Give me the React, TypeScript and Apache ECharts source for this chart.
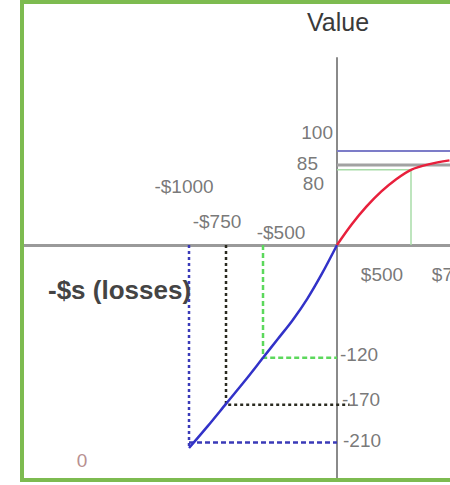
import React, { useEffect, useRef } from 'react';
import * as echarts from 'echarts';

// Reference points of the value function (losses / gains in $, value)
const lossAmounts = [-1000, -750, -500];
const lossValues = [-210, -170, -120];
const lossCurveEnd = -216;
const gainAmounts = [500];
const gainValues = [80];
const gainLevels = [100, 85];

// Curves
const blueCurveX = [0, -100, -200, -300, -400, -500, -625, -750, -875, -1000];
const blueCurveY = [0, -30, -57, -80, -100, -120, -145, -169, -193, -216];
const redCurveX = [0, 100, 200, 300, 400, 500, 625, 760];
const redCurveY = [0, 22, 41, 57, 70, 80, 86, 90];

// Tick labels
const xTickLabels = ['-$1000', '-$750', '-$500', '$500', '$750'];
const xTickValues = [-1000, -750, -500, 500, 750];
const yTickLabels = ['100', '85', '80', '-120', '-170', '-210'];
const yTickValues = [100, 85, 80, -120, -170, -210];

const FONT = '"Liberation Sans", Arial, sans-serif';

export default function App() {
  const ref = useRef<HTMLDivElement>(null);

  useEffect(() => {
    if (!ref.current) return;
    const chart = echarts.init(ref.current, undefined, { renderer: 'svg' });

    const xOffsets = [[-5, -58], [-9, -23], [18, -12], [-29, 30], [5, 30]];
    const yOffsets = [[-4, -18], [-19, -2], [-13, 14], [3, -3], [5, -5], [6, -2]];

    const lineSeries = (data: number[][], color: string, width: number, type: any, z = 2) => ({
      type: 'line',
      data,
      symbol: 'none',
      silent: true,
      z,
      lineStyle: { color, width, type, cap: 'butt' },
    });

    const blueCurve = blueCurveX.map((x, i) => [x, blueCurveY[i]]);
    const redCurve = redCurveX.map((x, i) => [x, redCurveY[i]]);

    const option: any = {
      animation: false,
      backgroundColor: '#ffffff',
      grid: { left: 24, right: 0, top: 58, bottom: 5 },
      xAxis: {
        type: 'value',
        min: -2115,
        max: 763.5,
        axisLine: { show: true, onZero: true, lineStyle: { color: '#9a9a9a', width: 3 } },
        axisTick: { show: false },
        axisLabel: { show: false },
        splitLine: { show: false },
      },
      yAxis: {
        type: 'value',
        min: -250,
        max: 198.9,
        axisLine: { show: true, onZero: true, lineStyle: { color: '#8a8a8a', width: 2 } },
        axisTick: { show: false },
        axisLabel: { show: false },
        splitLine: { show: false },
      },
      series: [
        // gain side reference lines
        lineSeries([[0, gainLevels[0]], [800, gainLevels[0]]], '#7c7cc8', 2, 'solid'),
        lineSeries([[0, gainLevels[1]], [800, gainLevels[1]]], '#a2a2a2', 3, 'solid'),
        lineSeries([[0, gainValues[0]], [gainAmounts[0], gainValues[0]], [gainAmounts[0], 0]], '#a8dca8', 1.5, 'solid'),
        // loss side dashed guides
        lineSeries([[lossAmounts[2], 0], [lossAmounts[2], lossValues[2]], [0, lossValues[2]]], '#5cd85c', 2.5, [5, 3]),
        lineSeries([[lossAmounts[1], 0], [lossAmounts[1], lossValues[1]], [85, lossValues[1]]], '#2a2a20', 2.5, [3, 3]),
        lineSeries([[lossAmounts[0], 0], [lossAmounts[0], lossCurveEnd]], '#3a3ab8', 2.5, [3, 3]),
        lineSeries([[lossAmounts[0], lossValues[0]], [0, lossValues[0]]], '#3a3ab8', 2.5, [5, 3]),
        // value curves
        { ...lineSeries(blueCurve, '#3232c8', 2.5, 'solid', 5), smooth: 0.3 },
        { ...lineSeries(redCurve, '#e8203c', 2.5, 'solid', 5), smooth: 0.3 },
        // tick labels
        {
          type: 'scatter',
          symbolSize: 1,
          silent: true,
          z: 6,
          itemStyle: { color: 'rgba(0,0,0,0)' },
          label: {
            show: true,
            position: 'inside',
            formatter: (p: any) => p.name,
            fontFamily: FONT,
            fontSize: 19,
            color: '#555555',
          },
          data: [
            ...xTickValues.map((v, i) => ({
              name: xTickLabels[i],
              value: [v, 0],
              label: { offset: xOffsets[i], align: 'center', verticalAlign: 'middle' },
            })),
            ...yTickValues.map((v, i) => ({
              name: yTickLabels[i],
              value: [0, v],
              label: { offset: yOffsets[i], align: v > 0 ? 'right' : 'left', verticalAlign: 'middle' },
            })),
          ],
        },
      ],
      graphic: [
        {
          type: 'text',
          x: 338,
          y: 22,
          z: 10,
          style: {
            text: 'Value',
            fontFamily: FONT,
            fontSize: 25,
            fill: '#3a3a3a',
            textAlign: 'center',
            textVerticalAlign: 'middle',
          },
        },
        {
          type: 'text',
          x: 48,
          y: 290,
          z: 10,
          style: {
            text: '-$s (losses)',
            fontFamily: FONT,
            fontSize: 26,
            fontWeight: 'bold',
            fill: '#444444',
            textAlign: 'left',
            textVerticalAlign: 'middle',
          },
        },
        {
          type: 'text',
          x: 82,
          y: 460,
          z: 10,
          style: {
            text: '0',
            fontFamily: FONT,
            fontSize: 19,
            fill: '#b89090',
            textAlign: 'center',
            textVerticalAlign: 'middle',
          },
        },
        {
          type: 'rect',
          z: 20,
          shape: { x: 22, y: 2, width: 460, height: 478 },
          style: { fill: 'none', stroke: '#7dbb50', lineWidth: 4 },
        },
      ],
    };

    chart.setOption(option);
    return () => chart.dispose();
  }, []);

  return (
    <div
      ref={ref}
      style={{ position: 'absolute', left: 0, top: 0, width: 450, height: 485, background: '#ffffff' }}
    />
  );
}
